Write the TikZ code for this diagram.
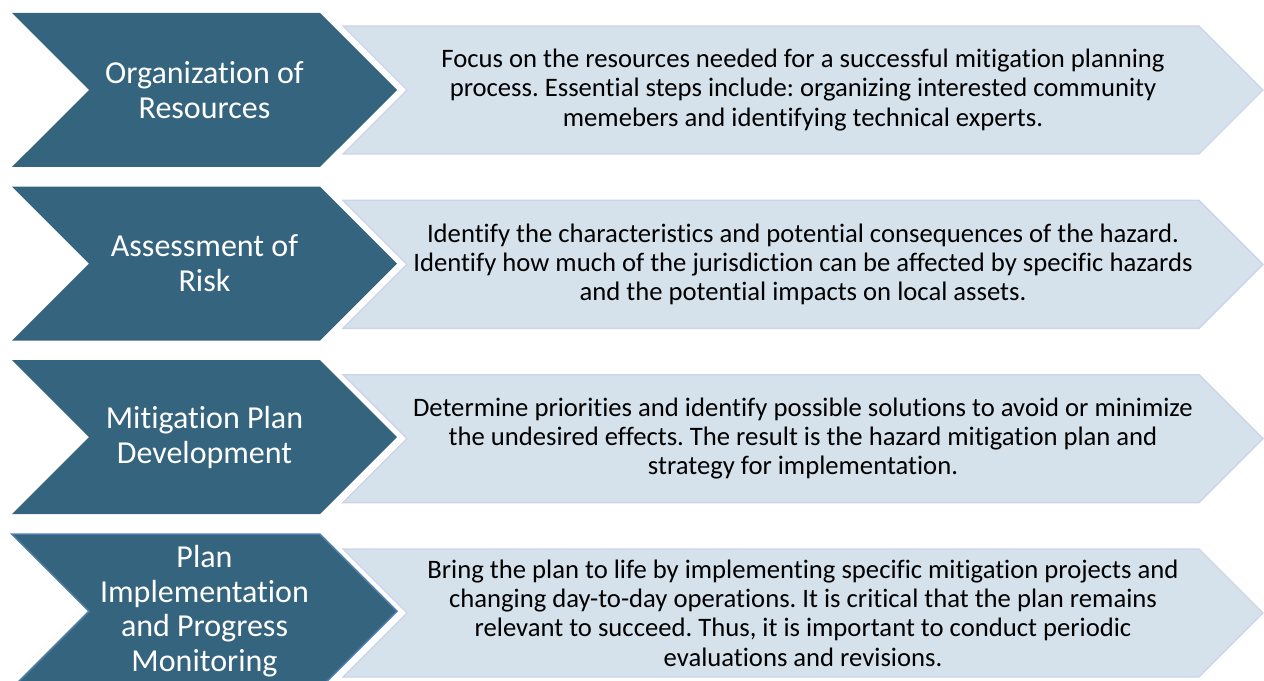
\documentclass[tikz,border=0pt]{standalone}
\usepackage{fontspec}
\setmainfont{Carlito}[Ligatures={NoCommon,NoContextual}]
\frenchspacing
\usetikzlibrary{shapes.symbols,positioning}

\definecolor{stepdark}{HTML}{35647E}
\definecolor{steplight}{HTML}{D5E2EC}
\definecolor{steprim}{HTML}{CDD4EA}
\definecolor{stepsel}{HTML}{4C7FAE}

\tikzset{
  chevron/.style={signal, signal from=west, signal to=east, signal pointer angle=90,
    inner sep=0pt, align=center},
  darkstep/.style={chevron, fill=stepdark, text=white, minimum width=288.75pt,
    minimum height=115.5pt, font=\fontsize{24}{26.2}\selectfont},
  lightstep/.style={chevron, fill=steplight, draw=steprim, line width=1pt,
    minimum width=690pt, minimum height=96pt, font=\fontsize{20}{22}\selectfont}
}

\begin{document}
\begin{tikzpicture}[x=0.75pt,y=-0.75pt]
  \clip (0,0) rectangle (1264,681);

  %steps
  \node[darkstep] (org) at (204.5,90) {Organization of\\Resources};
  \node[darkstep, below=14.25pt of org] (risk) {Assessment of\\Risk};
  \node[darkstep, below=14.25pt of risk] (mit) {Mitigation Plan\\Development};
  \node[darkstep, below=14.25pt of mit, draw=stepsel, line width=1.2pt] (impl)
    {Plan\\Implementation\\and Progress\\Monitoring};

  %descriptions
  \node[lightstep] (orgtext) at (803,90)
    {Focus on the resources needed for a successful mitigation planning\\
     process. Essential steps include: organizing interested community\\
     memebers and identifying technical experts.};
  \node[lightstep, below=33.75pt of orgtext] (risktext)
    {Identify the characteristics and potential consequences of the hazard.\\
     Identify how much of the jurisdiction can be affected by specific hazards\\
     and the potential impacts on local assets.};
  \node[lightstep, below=33.75pt of risktext] (mittext)
    {Determine priorities and identify possible solutions to avoid or minimize\\
     the undesired effects. The result is the hazard mitigation plan and\\
     strategy for implementation.};
  \node[lightstep, below=33.75pt of mittext] (impltext)
    {Bring the plan to life by implementing specific mitigation projects and\\
     changing day-to-day operations. It is critical that the plan remains\\
     relevant to succeed. Thus, it is important to conduct periodic\\
     evaluations and revisions.};
\end{tikzpicture}
\end{document}
